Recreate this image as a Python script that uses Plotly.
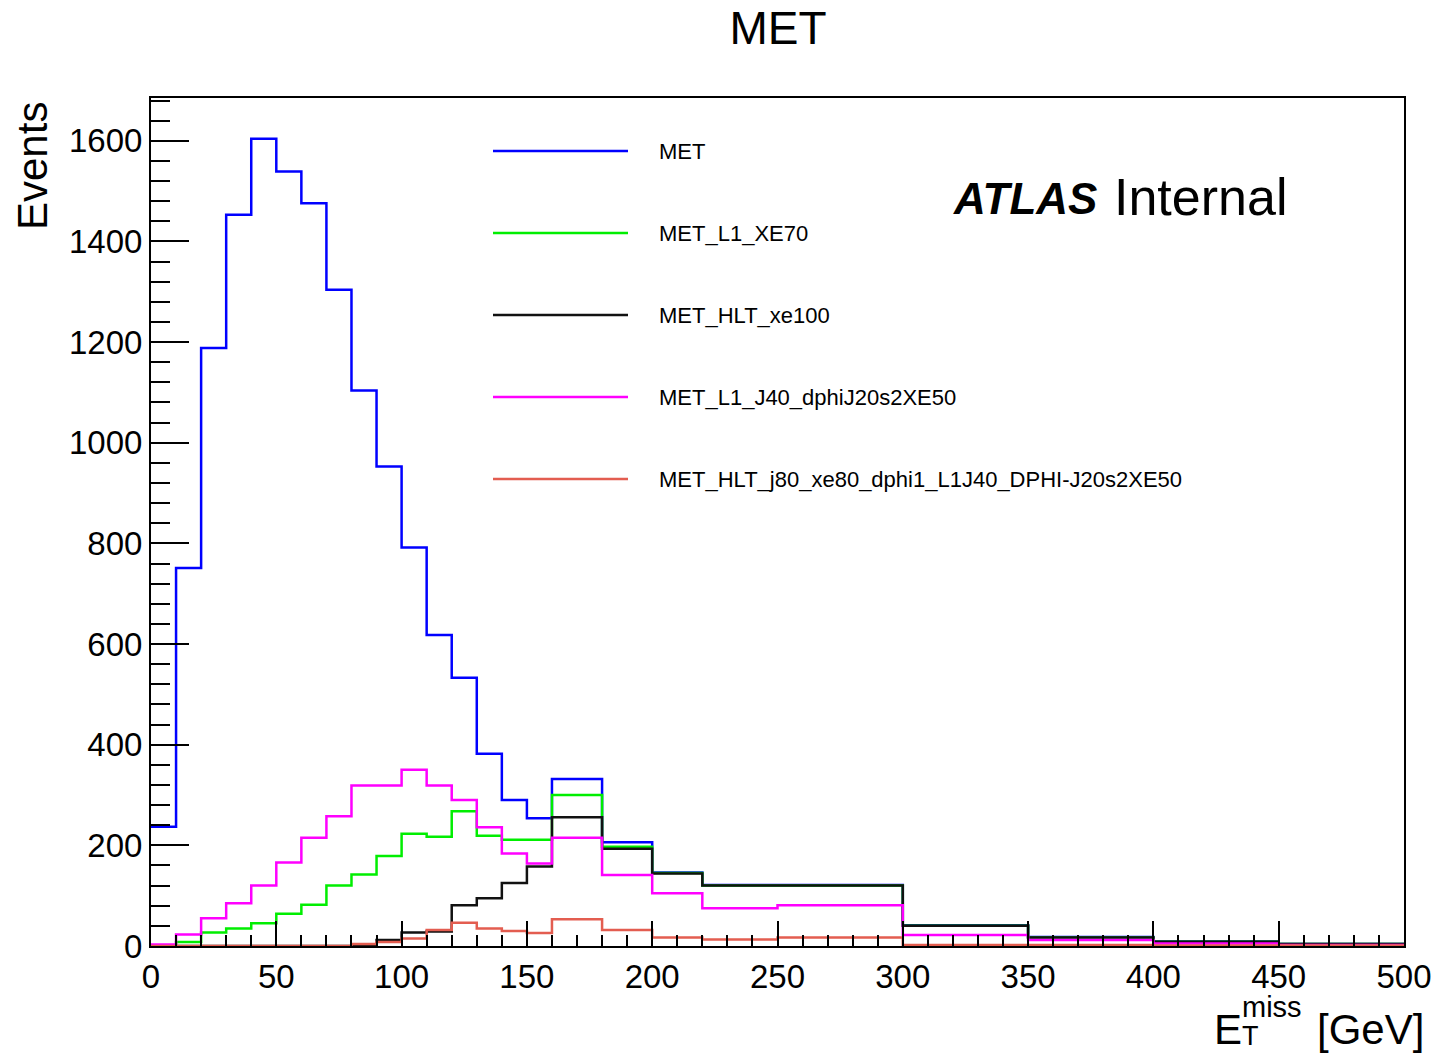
import plotly.graph_objects as go

# Variable-width bin edges in GeV
bin_edges = [0, 10, 20, 30, 40, 50, 60, 70, 80, 90, 100, 110, 120, 130, 140, 150, 160,
             180, 200, 220, 250, 300, 350, 400, 450, 500]

# Event counts per bin for each selection
met = [237, 751, 1188, 1453, 1604, 1539, 1476, 1304, 1104, 953, 792, 618, 533, 382, 290, 254,
       332, 206, 146, 121, 121, 41, 18, 9, 4]
met_l1_xe70 = [0, 8, 27, 35, 45, 64, 82, 120, 142, 179, 223, 217, 268, 219, 211, 211,
               300, 197, 145, 120, 120, 40, 17, 8.5, 4]
met_hlt_xe100 = [0, 0, 0, 0, 0, 0, 0, 0, 2, 12, 27, 29, 81, 95, 125, 158,
                 256, 193, 144, 120, 120, 40, 17, 8.5, 4]
met_l1_j40_dphi = [3, 23, 55, 85, 120, 166, 215, 258, 319, 319, 350, 319, 290, 236, 184, 164,
                   215, 141, 105, 75, 81, 22, 12, 5, 2]
met_hlt_j80_xe80 = [0, 0, 0, 0, 0, 0, 0, 0, 4, 8, 15, 32, 46, 35, 30, 26,
                    53, 32, 17, 13, 17, 2, 2, 1, 1]

series_names = ["MET", "MET_L1_XE70", "MET_HLT_xe100", "MET_L1_J40_dphiJ20s2XE50",
                "MET_HLT_j80_xe80_dphi1_L1J40_DPHI-J20s2XE50"]
series_values = [met, met_l1_xe70, met_hlt_xe100, met_l1_j40_dphi, met_hlt_j80_xe80]
series_colors = ["#0000ff", "#00ee00", "#111111", "#ff00ff", "#e35d50"]

FONT = "Liberation Sans, Arial, Helvetica, sans-serif"

fig = go.Figure()

for name, vals, col in zip(series_names, series_values, series_colors):
    fig.add_trace(go.Scatter(
        x=bin_edges,
        y=list(vals) + [vals[-1]],
        mode="lines",
        line=dict(color=col, width=2.5, shape="hv"),
        name=name,
        showlegend=False,
    ))

# Plot-area geometry (pixels) used to place the legend and labels
W, H = 1435, 1054
L, R, T, B = 151, 1404, 98, 946


def px(xp):
    return (xp - L) / (R - L)


def py(yp):
    return (B - yp) / (B - T)


shapes = []
annotations = []

# Legend: line samples with labels
legend_y = [151, 233, 315, 397, 479]
for name, col, yl in zip(series_names, series_colors, legend_y):
    shapes.append(dict(type="line", xref="paper", yref="paper",
                       x0=px(493), x1=px(628), y0=py(yl), y1=py(yl),
                       line=dict(color=col, width=2.5)))
    annotations.append(dict(xref="paper", yref="paper", x=px(657), y=py(yl),
                            xanchor="left", yanchor="middle", showarrow=False,
                            text=name, font=dict(family=FONT, size=22, color="black")))

# ATLAS label
annotations.append(dict(xref="paper", yref="paper", x=px(951), y=py(198),
                        xanchor="left", yanchor="middle", showarrow=False,
                        text="<b><i>ATLAS</i></b>",
                        font=dict(family=FONT, size=44, color="black")))
annotations.append(dict(xref="paper", yref="paper", x=px(1112), y=py(197),
                        xanchor="left", yanchor="middle", showarrow=False,
                        text="Internal",
                        font=dict(family=FONT, size=52, color="black")))

# y-axis title
annotations.append(dict(xref="paper", yref="paper", x=px(32), y=py(100),
                        xanchor="center", yanchor="top", showarrow=False,
                        textangle=-90, text="Events",
                        font=dict(family=FONT, size=42, color="black")))

# x-axis title: E with stacked T subscript and "miss" superscript
annotations.append(dict(xref="paper", yref="paper", x=px(1212), y=py(1029),
                        xanchor="left", yanchor="middle", showarrow=False,
                        text="E", font=dict(family=FONT, size=42, color="black")))
annotations.append(dict(xref="paper", yref="paper", x=px(1240), y=py(1007),
                        xanchor="left", yanchor="middle", showarrow=False,
                        text="miss", font=dict(family=FONT, size=29, color="black")))
annotations.append(dict(xref="paper", yref="paper", x=px(1240), y=py(1036),
                        xanchor="left", yanchor="middle", showarrow=False,
                        text="T", font=dict(family=FONT, size=27, color="black")))
annotations.append(dict(xref="paper", yref="paper", x=px(1426), y=py(1029),
                        xanchor="right", yanchor="middle", showarrow=False,
                        text="[GeV]", font=dict(family=FONT, size=42, color="black")))

fig.update_layout(
    width=W, height=H,
    margin=dict(l=L, r=W - R, t=T, b=H - B, pad=0, autoexpand=False),
    paper_bgcolor="white", plot_bgcolor="white",
    title=dict(text="MET", x=778 / W, xanchor="center", y=1 - 28 / H, yanchor="middle",
               font=dict(family=FONT, size=46, color="black")),
    shapes=shapes,
    annotations=annotations,
    showlegend=False,
)

fig.update_xaxes(
    range=[0, 500], tick0=0, dtick=50, automargin=False,
    ticks="inside", ticklen=25, tickwidth=2, tickcolor="black",
    minor=dict(dtick=10, ticks="inside", ticklen=11, tickwidth=2, tickcolor="black"),
    showline=True, linecolor="black", linewidth=2, mirror=True,
    showgrid=False, zeroline=False,
    tickfont=dict(family=FONT, size=33, color="black"),
)
fig.update_yaxes(
    range=[0, 1685], tick0=0, dtick=200, automargin=False,
    ticks="inside", ticklen=38, tickwidth=2, tickcolor="black",
    minor=dict(dtick=40, ticks="inside", ticklen=19, tickwidth=2, tickcolor="black"),
    showline=True, linecolor="black", linewidth=2, mirror=True,
    showgrid=False, zeroline=False,
    tickfont=dict(family=FONT, size=33, color="black"),
)

fig.write_html("out.html")
